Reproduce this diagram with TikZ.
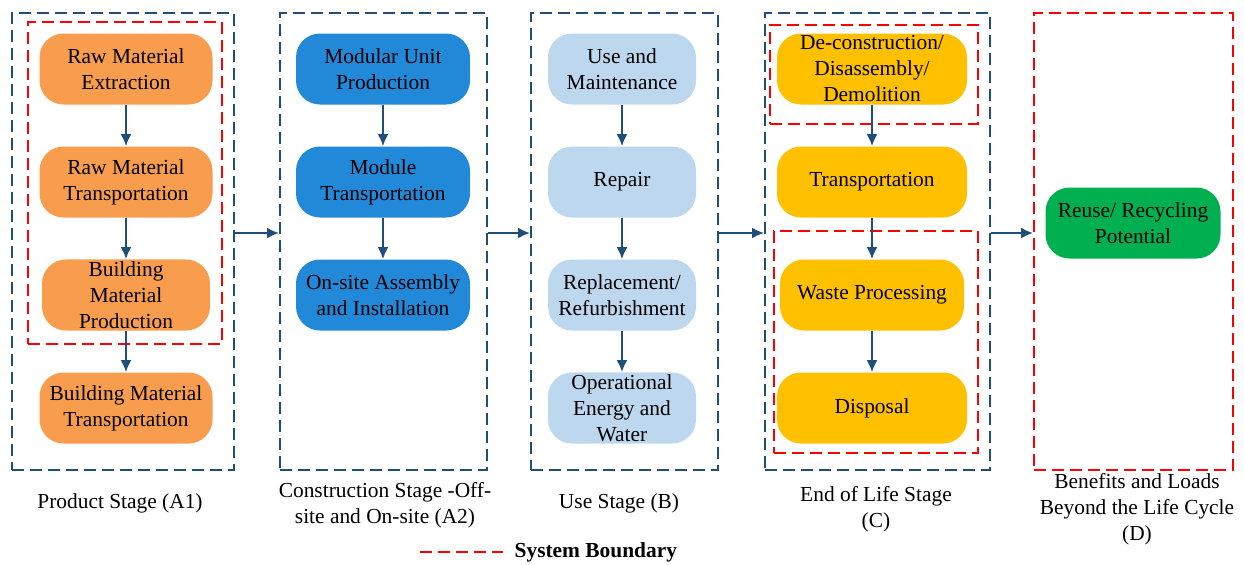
\documentclass[tikz,border=0pt]{standalone}
\usepackage{fontspec}
\setmainfont{Liberation Serif}
\usetikzlibrary{%
	arrows.meta,%
	calc
}

\definecolor{stageblue}{RGB}{31,78,121}
\definecolor{prodorange}{RGB}{248,157,77}
\definecolor{modblue}{RGB}{34,136,216}
\definecolor{uselight}{RGB}{189,215,238}
\definecolor{eolgold}{RGB}{255,192,0}
\definecolor{reusegreen}{RGB}{0,176,80}

\begin{document}
\begin{tikzpicture}[x=0.5pt, y=-0.5pt,
	proc/.style={rounded corners=12pt, minimum height=35.5pt, align=center, inner sep=1pt,
		font=\fontsize{10.7}{13}\selectfont},
	stagebox/.style={draw=stageblue, line width=1pt, dash pattern=on 6pt off 3pt, inner sep=0pt},
	sysbox/.style={draw=red, line width=1pt, dash pattern=on 6pt off 3pt, inner sep=0pt},
	flow/.style={-{Latex[length=6pt,width=5.5pt]}, draw=stageblue, line width=1pt},
	caption/.style={align=center, font=\fontsize{10.7}{13}\selectfont}
]
	\useasboundingbox (0,0) rectangle (1244,564);

	% Stage frames
	\node[stagebox, minimum width=111pt, minimum height=228.5pt] (s1) at (123,241.5) {};
	\node[stagebox, minimum width=103.5pt, minimum height=228.5pt] (s2) at (383.5,241.5) {};
	\node[stagebox, minimum width=93.5pt, minimum height=228.5pt] (s3) at (624.5,241.5) {};
	\node[stagebox, minimum width=112.5pt, minimum height=228.5pt] (s4) at (877.5,241.5) {};
	\node[sysbox, minimum width=99.5pt, minimum height=228.5pt] (s5) at (1133.5,241.5) {};

	% System boundaries inside the stages
	\node[sysbox, minimum width=97pt, minimum height=161pt] (b1) at (125,183) {};
	\node[sysbox, minimum width=104pt, minimum height=49.5pt] (b4a) at (874,74.5) {};
	\node[sysbox, minimum width=102pt, minimum height=111pt] (b4b) at (876,342) {};

	% Product stage
	\node[proc, fill=prodorange, minimum width=86.5pt] (p1) at (126,69) {Raw Material\\Extraction};
	\node[proc, fill=prodorange, minimum width=86.5pt] (p2) at (126,182) {Raw Material\\Transportation};
	\node[proc, fill=prodorange, minimum width=84pt] (p3) at (126,295) {Building\\Material\\Production};
	\node[proc, fill=prodorange, minimum width=86.5pt] (p4) at (126,408) {Building Material\\Transportation};

	% Construction stage
	\node[proc, fill=modblue, minimum width=87pt] (c1) at (383,69) {Modular Unit\\Production};
	\node[proc, fill=modblue, minimum width=87pt] (c2) at (383,182) {Module\\Transportation};
	\node[proc, fill=modblue, minimum width=87pt] (c3) at (383,295) {On-site Assembly\\and Installation};

	% Use stage
	\node[proc, fill=uselight, minimum width=74pt] (u1) at (622,69) {Use and\\Maintenance};
	\node[proc, fill=uselight, minimum width=74pt] (u2) at (622,182) {Repair};
	\node[proc, fill=uselight, minimum width=74pt] (u3) at (622,295) {Replacement/\\Refurbishment};
	\node[proc, fill=uselight, minimum width=74pt] (u4) at (622,408) {Operational\\Energy and\\Water};

	% End of life stage
	\node[proc, fill=eolgold, minimum width=95pt] (e1) at (872,69) {De-construction/\\Disassembly/\\Demolition};
	\node[proc, fill=eolgold, minimum width=95pt] (e2) at (872,182) {Transportation};
	\node[proc, fill=eolgold, minimum width=92pt] (e3) at (872,295) {Waste Processing};
	\node[proc, fill=eolgold, minimum width=95pt] (e4) at (872,408) {Disposal};

	% Beyond the life cycle
	\node[proc, fill=reusegreen, minimum width=87.5pt] (r1) at (1133,223) {Reuse/ Recycling\\Potential};

	% Flows within the stages
	\foreach \a/\b in {p1/p2, p2/p3, p3/p4, c1/c2, c2/c3, u1/u2, u2/u3, u3/u4, e1/e2, e2/e3, e3/e4} {
		\draw[flow] (\a) -- (\b);
	}

	% Flows between the stages
	\foreach \a/\b in {s1/s2, s2/s3, s3/s4, s4/s5} {
		\draw[flow] (\a.east |- 0,233) -- (\b.west |- 0,233);
	}

	% Stage captions
	\node[caption] (t1) at (120,503) {Product Stage (A1)};
	\node[caption] (t2) at (385,505) {Construction Stage -Off-\\site and On-site (A2)};
	\node[caption] (t3) at (619,503) {Use Stage (B)};
	\node[caption] (t4) at (876,509) {End of Life Stage\\(C)};
	\node[caption] (t5) at (1137,509) {Benefits and Loads\\Beyond the Life Cycle\\(D)};

	% Legend
	\coordinate (lg) at (420,552);
	\draw[red, line width=1pt, dash pattern=on 6pt off 3pt] (lg) -- ++(83,0)
		node[right, xshift=2pt, text=black, font=\fontsize{10.7}{13}\selectfont\bfseries] (lgt) {System Boundary};
\end{tikzpicture}
\end{document}
